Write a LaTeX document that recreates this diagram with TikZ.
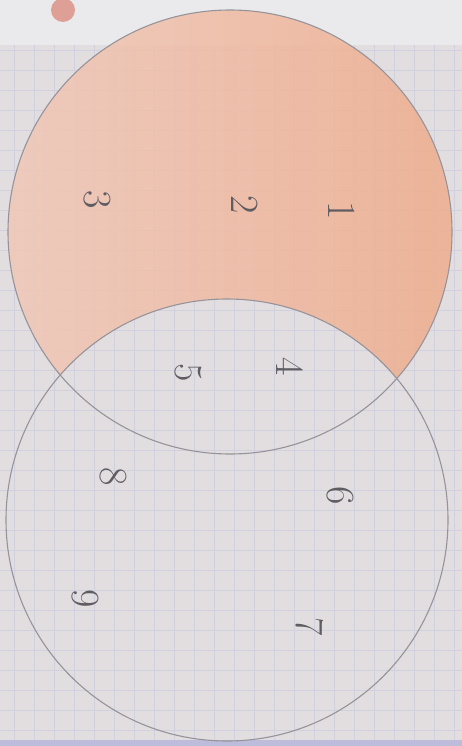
\documentclass[tikz,border=0pt]{standalone}
\usetikzlibrary{calc}
\definecolor{paper}{RGB}{226,221,223}
\definecolor{papertop}{RGB}{234,234,236}
\definecolor{gridc}{RGB}{208,208,222}
\definecolor{salmonl}{RGB}{240,208,196}
\definecolor{salmon}{RGB}{240,200,184}
\definecolor{salmondeep}{RGB}{238,172,140}
\definecolor{penc}{RGB}{150,148,154}
\definecolor{inkc}{RGB}{95,92,98}
\definecolor{dotc}{RGB}{222,160,150}
\begin{document}
\begin{tikzpicture}[x=1pt,y=-1pt,
  circ/.style={draw=penc, line width=1.1pt},
  digit/.style={text=inkc, font=\fontsize{40}{40}\selectfont, rotate=-90, inner sep=0pt}]
\useasboundingbox (0,0) rectangle (462,746);
% paper
\fill[paper] (0,0) rectangle (462,746);
\fill[papertop] (0,0) rectangle (462,45);
\foreach \x in {14,34,...,454} \draw[gridc, line width=0.6pt] (\x,45) -- (\x,740);
\foreach \y in {50,70,...,730} \draw[gridc, line width=0.6pt] (0,\y) -- (462,\y);
\fill[blue!30!gray!40] (0,740) rectangle (462,746);
% punch dot
\fill[dotc] (63,10) circle (12);
% circles
\coordinate (ctop) at (230,232);
\coordinate (cbot) at (227,520);
% shading of top minus bottom
\begin{scope}
  \clip (ctop) circle (222);
  \begin{scope}[even odd rule]
    \clip (ctop) circle (222) (cbot) circle (221);
    \shade[left color=salmon, middle color=salmonl, right color=salmondeep, fill opacity=0.85] (0,0) rectangle (462,460);
  \end{scope}
\end{scope}
\draw[circ] (ctop) circle (222);
\draw[circ] (cbot) circle (221);
% numbers
\node[digit] (n1) at (342,211) {1};
\node[digit] (n2) at (245,205) {2};
\node[digit] (n3) at (97,200) {3};
\node[digit] (n4) at (290,367) {4};
\node[digit] (n5) at (188,373) {5};
\node[digit] (n6) at (340,496) {6};
\node[digit] (n7) at (310,627) {7};
\node[digit] (n8) at (113,477) {8};
\node[digit] (n9) at (85,599) {9};
\end{tikzpicture}
\end{document}
